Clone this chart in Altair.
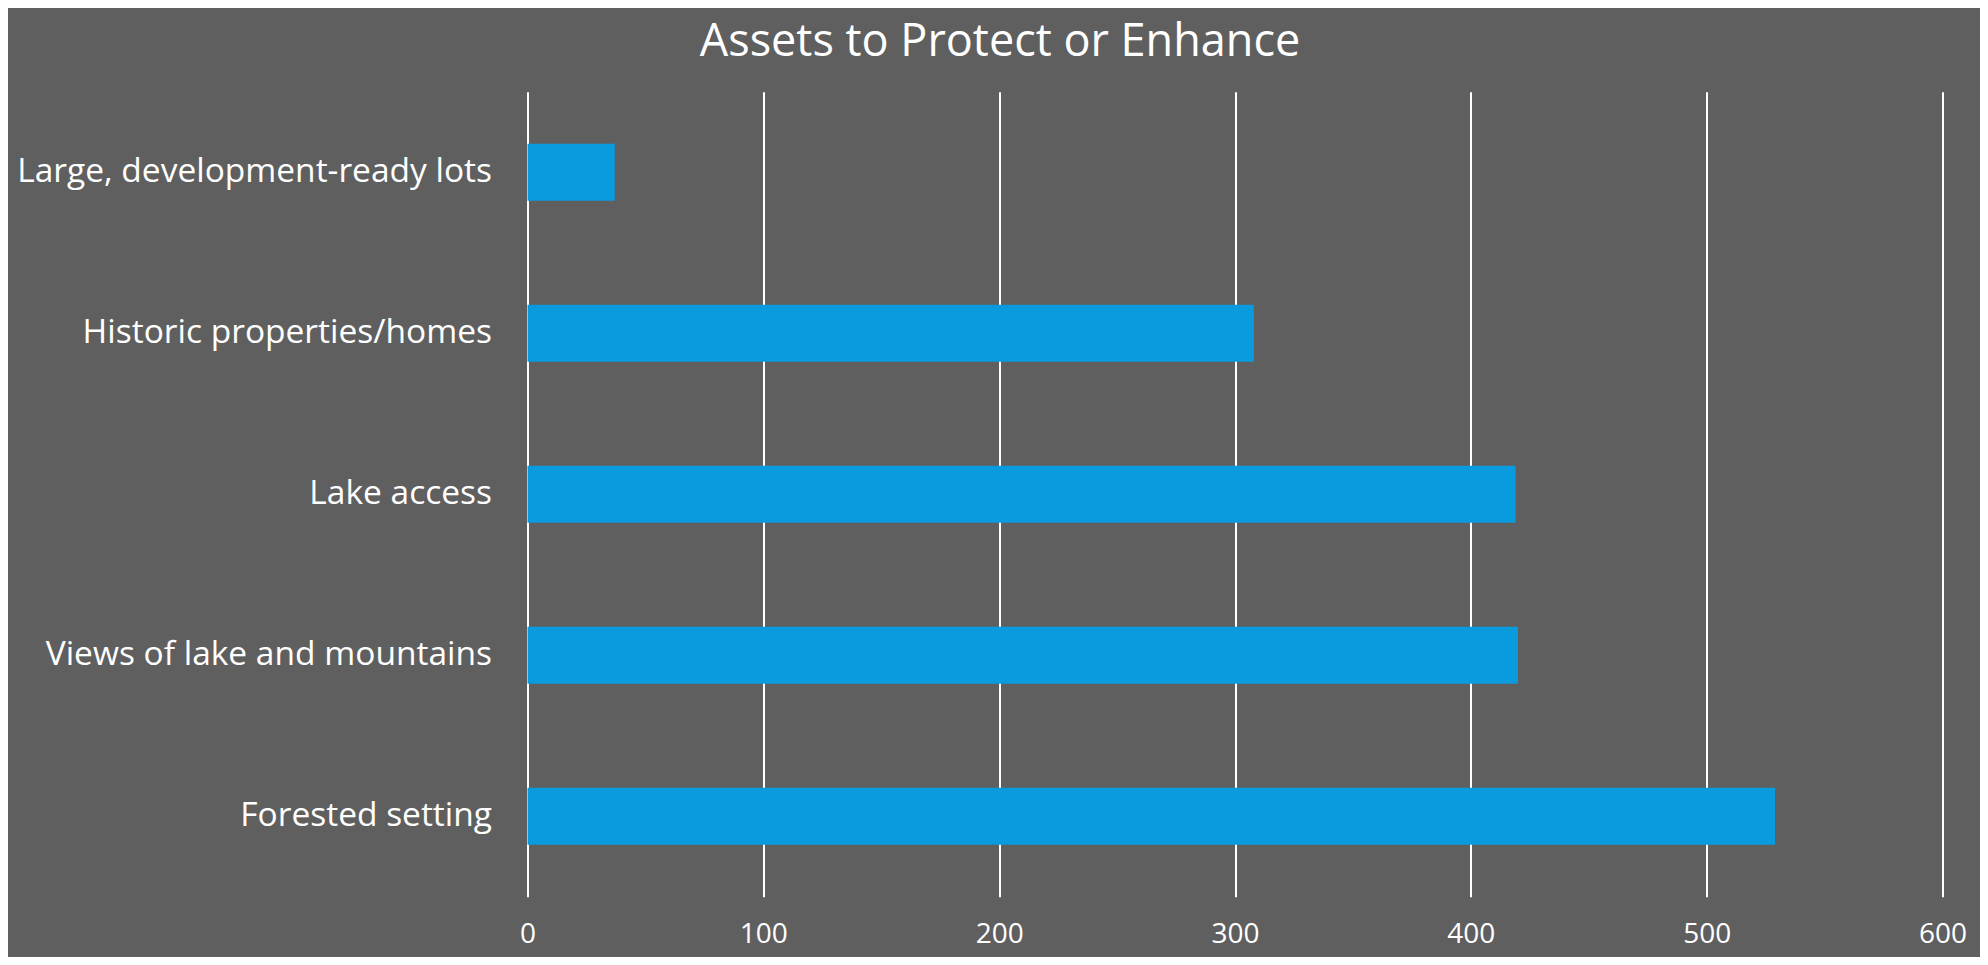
import altair as alt
import pandas as pd

categories = [
    "Large, development-ready lots",
    "Historic properties/homes",
    "Lake access",
    "Views of lake and mountains",
    "Forested setting",
]
values = [37, 308, 419, 420, 529]
x_ticks = [0, 100, 200, 300, 400, 500, 600]

df = pd.DataFrame({"category": categories, "value": values})

FONT = "Open Sans"
BG = "#5F5F5F"

chart = (
    alt.Chart(df)
    .mark_bar(color="#0A9ADE")
    .encode(
        x=alt.X(
            "value:Q",
            scale=alt.Scale(domain=[0, 600], nice=False, zero=True),
            axis=alt.Axis(
                values=x_ticks,
                title=None,
                grid=True,
                gridColor="white",
                gridWidth=2,
                gridOpacity=1,
                domain=False,
                ticks=False,
                labelColor="white",
                labelFont=FONT,
                labelFontSize=28,
                labelFontWeight=400,
                labelPadding=38,
                labelBaseline="middle",
                labelFlush=False,
            ),
        ),
        y=alt.Y(
            "category:N",
            sort=categories,
            scale=alt.Scale(paddingInner=0.646, paddingOuter=0.323),
            axis=alt.Axis(
                title=None,
                domain=False,
                ticks=False,
                labelColor="white",
                labelFont=FONT,
                labelFontSize=33.5,
                labelFontWeight=400,
                labelPadding=36,
                labelLimit=600,
            ),
        ),
    )
    .properties(
        width=1415,
        height=805,
        background=BG,
        autosize=alt.AutoSizeParams(type="none"),
        padding={"left": 519.5, "top": 83.7, "right": 37.5, "bottom": 60.3},
        title=alt.TitleParams(
            "Assets to Protect or Enhance",
            color="white",
            font=FONT,
            fontSize=45,
            fontWeight=400,
            anchor="middle",
            frame="group",
            dx=-235,
            offset=27,
        ),
    )
    .configure_view(stroke=None)
)

chart.save("out.html", embed_options={"renderer": "svg", "actions": False})
